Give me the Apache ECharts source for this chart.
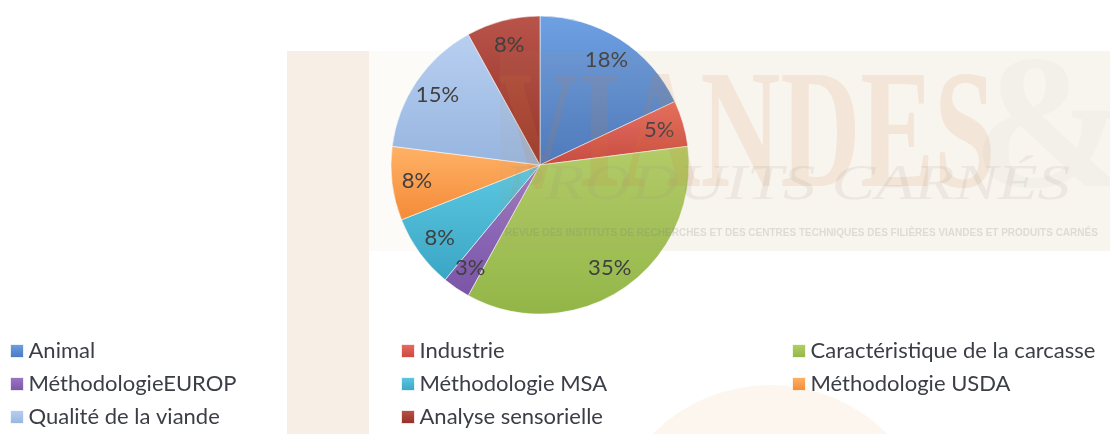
<!DOCTYPE html>
<html>
<head>
<meta charset="utf-8">
<script src="https://cdn.jsdelivr.net/npm/echarts@6/dist/echarts.min.js"></script>
<style>
  html, body { margin: 0; padding: 0; background: #fff; }
  #chart { width: 1110px; height: 434px; }
</style>
</head>
<body>
<div id="chart"></div>
<script>
const categories = [
  'Animal',
  'Industrie',
  'Caractéristique de la carcasse',
  'MéthodologieEUROP',
  'Méthodologie MSA',
  'Méthodologie USDA',
  'Qualité de la viande',
  'Analyse sensorielle'
]
const shares = [18, 5, 35, 3, 8, 8, 15, 8]

// light / dark pairs for the office style gradient
const sliceColors = [
  ['#6fa0e2', '#4778c2'],
  ['#ea6c62', '#c9463e'],
  ['#b2d068', '#93b548'],
  ['#9d77c6', '#7a55a6'],
  ['#5cc8e2', '#3aa6c4'],
  ['#ffb266', '#f48a38'],
  ['#b8cff0', '#97b5e0'],
  ['#b8544a', '#962f27']
]

// legend columns, as Excel laid them out
const legendCols = [
  ['Animal', 'MéthodologieEUROP', 'Qualité de la viande'],
  ['Industrie', 'Méthodologie MSA', 'Analyse sensorielle'],
  ['Caractéristique de la carcasse', 'Méthodologie USDA']
]
const legendLeft = [10, 401, 792]

const grad = (pair) => new echarts.graphic.LinearGradient(0, 0, 0, 1, [
  { offset: 0, color: pair[0] },
  { offset: 1, color: pair[1] }
])

const pieData = categories.map((name, i) => ({
  name,
  value: shares[i],
  itemStyle: { color: grad(sliceColors[i]) }
}))

const labelData = categories.map((name, i) => ({ name, value: shares[i] }))

const chart = echarts.init(document.getElementById('chart'))

const center = [540, 165]
const R = 149

chart.setOption({
  animation: false,
  backgroundColor: '#fff',
  textStyle: { fontFamily: 'Lato' },
  graphic: [
    // faded logo behind the chart
    { type: 'rect', z: -10, shape: { x: 287, y: 51, width: 82, height: 383 }, style: { fill: '#f7efe6' } },
    { type: 'rect', z: -10, shape: { x: 369, y: 51, width: 741, height: 200 }, style: { fill: '#fdfbf8' } },
    { type: 'circle', z: -10, shape: { cx: 770, cy: 550, r: 165 }, style: { fill: '#fdf6ee' } },
    {
      type: 'rect', z: 90, silent: true,
      shape: { x: 500, y: 51, width: 610, height: 200 },
      style: { fill: 'rgba(190,150,110,0.07)' }
    },
    {
      type: 'text', z: 100, left: 498, top: 57, silent: true,
      scaleX: 0.65,
      style: {
        text: 'VIANDES', font: 'bold 170px "Liberation Serif"',
        fill: 'rgba(214,120,50,0.12)'
      }
    },
    {
      type: 'text', z: 100, left: 972, top: 42, silent: true,
      style: { text: '&', font: 'bold 190px "Liberation Serif"', fill: 'rgba(150,150,150,0.05)' }
    },
    {
      type: 'text', z: 100, left: 505, top: 161, silent: true,
      scaleX: 1.3,
      style: {
        text: 'PRODUITS CARNÉS', font: 'italic 50px "Liberation Serif"',
        fill: 'rgba(160,150,120,0.13)'
      }
    },
    {
      type: 'text', z: 100, left: 505, top: 228, silent: true,
      style: {
        text: 'REVUE DES INSTITUTS DE RECHERCHES ET DES CENTRES TECHNIQUES DES FILIÈRES VIANDES ET PRODUITS CARNÉS',
        font: 'bold 10px "Liberation Sans"',
        fill: 'rgba(120,120,120,0.2)'
      }
    }
  ],
  legend: legendCols.map((col, k) => ({
    orient: 'vertical',
    left: legendLeft[k],
    top: 340,
    padding: 0,
    itemWidth: 13,
    itemHeight: 13,
    itemGap: 11,
    icon: 'rect',
    selectedMode: false,
    textStyle: { fontFamily: 'Lato', fontSize: 22, color: '#3b3e46', lineHeight: 22 },
    data: col.map(name => {
      const i = categories.indexOf(name)
      return {
        name,
        itemStyle: { color: grad(sliceColors[i]), borderColor: 'rgba(255,255,255,0.7)', borderWidth: 1 }
      }
    })
  })),
  series: [
    {
      type: 'pie',
      center,
      radius: [0, R],
      startAngle: 90,
      clockwise: true,
      label: { show: false },
      labelLine: { show: false },
      itemStyle: { borderColor: 'rgba(255,255,255,0.55)', borderWidth: 1 },
      emphasis: { disabled: true },
      data: pieData
    },
    {
      // transparent ring only used to place the percent labels
      type: 'pie',
      center,
      radius: [93, R],
      startAngle: 90,
      clockwise: true,
      silent: true,
      legendHoverLink: false,
      z: 3,
      itemStyle: { color: 'rgba(0,0,0,0)', borderWidth: 0 },
      label: {
        show: true,
        position: 'inside',
        formatter: '{d}%',
        fontFamily: 'Lato',
        fontSize: 22,
        color: '#404040'
      },
      labelLine: { show: false },
      emphasis: { disabled: true },
      data: labelData
    }
  ]
})
</script>
</body>
</html>
